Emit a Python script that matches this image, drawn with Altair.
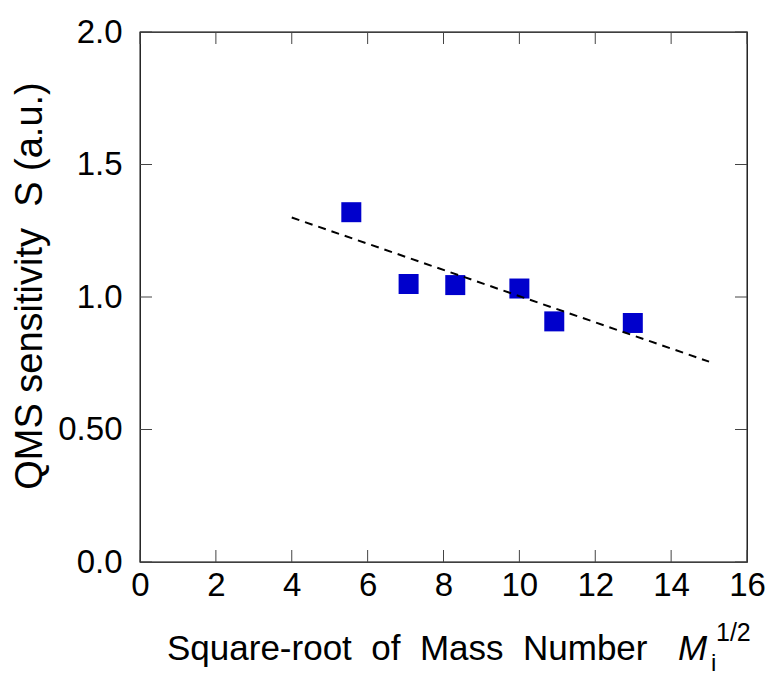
import altair as alt
import pandas as pd

# Data
sqrt_mass = [5.57, 7.08, 8.31, 10.00, 10.92, 12.99]
sensitivity = [1.320, 1.049, 1.045, 1.032, 0.908, 0.902]
fit_x = [4.0, 15.0]
fit_y = [1.300, 0.756]
x_ticks = [0, 2, 4, 6, 8, 10, 12, 14, 16]
y_ticks = [0.0, 0.5, 1.0, 1.5, 2.0]

W, H = 607, 530
FONT = "Liberation Sans"

pts = pd.DataFrame({"x": sqrt_mass, "y": sensitivity})
fit = pd.DataFrame({"x": fit_x, "y": fit_y})
xt = pd.DataFrame({"x": x_ticks})
yt = pd.DataFrame({"y": y_ticks})

xs = alt.Scale(domain=[0, 16], nice=False, zero=False)
ys = alt.Scale(domain=[0, 2], nice=False, zero=False)

x_axis = alt.Axis(
    values=x_ticks, title=None, ticks=False, tickSize=0, domain=False, grid=False,
    labelFontSize=33, labelFont=FONT, labelColor="black", labelPadding=7, format="d",
    labelFlush=False, labelOverlap=False)
y_axis = alt.Axis(
    values=y_ticks, title=None, ticks=False, tickSize=0, domain=False, grid=False,
    labelFontSize=33, labelFont=FONT, labelColor="black", labelPadding=18,
    labelFlush=False, labelOverlap=False,
    labelExpr="datum.value == 0.5 ? '0.50' : format(datum.value, '.1f')")

X = alt.X("x:Q", scale=xs, axis=x_axis)
Y = alt.Y("y:Q", scale=ys, axis=y_axis)

points = alt.Chart(pts).mark_square(size=400, color="#0000cc", opacity=1).encode(x=X, y=Y)

line = alt.Chart(fit).mark_line(color="black", strokeWidth=2, strokeDash=[8, 6]).encode(x=X, y=Y)

tick_color = "#444444"
tb = alt.Chart(xt).mark_rule(color=tick_color, strokeWidth=1).encode(
    x=X, y=alt.value(H), y2=alt.value(H - 12))
tt = alt.Chart(xt).mark_rule(color=tick_color, strokeWidth=1).encode(
    x=X, y=alt.value(0), y2=alt.value(12))
tl = alt.Chart(yt).mark_rule(color=tick_color, strokeWidth=1).encode(
    y=Y, x=alt.value(0), x2=alt.value(12))
tr = alt.Chart(yt).mark_rule(color=tick_color, strokeWidth=1).encode(
    y=Y, x=alt.value(W), x2=alt.value(W - 12))

def label(text, x, y, size, **kw):
    return alt.Chart(pd.DataFrame({"s": [text]})).mark_text(
        font=FONT, fontSize=size, color="black", **kw
    ).encode(text="s:N", x=alt.value(x), y=alt.value(y))

xtitle = label("Square-root\u00a0\u00a0of\u00a0\u00a0Mass\u00a0\u00a0Number", 27, 628, 35,
               align="left", baseline="alphabetic")
xM = label("M", 538, 628, 35, align="left", baseline="alphabetic", fontStyle="italic")
xi = label("i", 571, 639, 24, align="left", baseline="alphabetic")
xsup = label("1/2", 576, 609, 25, align="left", baseline="alphabetic")
ytitle = label("QMS sensitivity\u00a0\u00a0S (a.u.)", -98, 254, 38,
               align="center", baseline="alphabetic", angle=270)

chart = alt.layer(points, line, tb, tt, tl, tr, xtitle, xM, xi, xsup, ytitle).properties(
    width=W, height=H, autosize="none",
    padding={"left": 140, "top": 32, "right": 19, "bottom": 113},
    background="white",
).configure_view(stroke="black", strokeWidth=1.3)

chart.save("out.html", embed_options={"renderer": "svg", "actions": False})
